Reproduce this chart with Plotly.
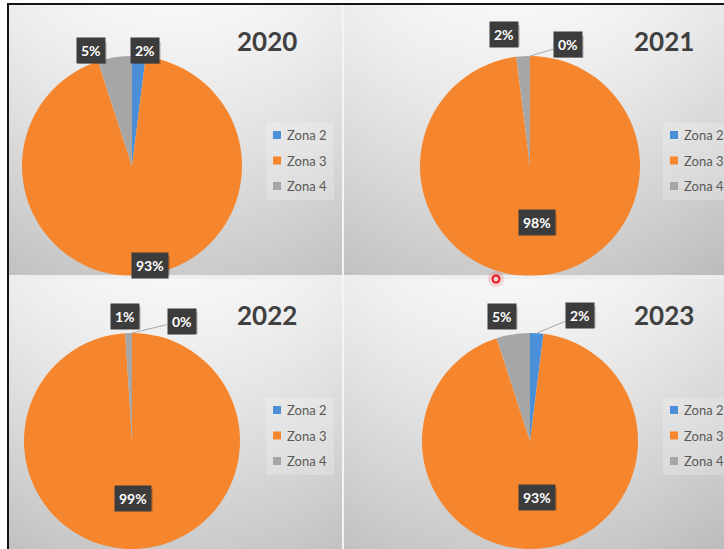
import base64
import math
import struct
import zlib

import numpy as np
import plotly.graph_objects as go

# ---- data -------------------------------------------------------------
years = ["2020", "2021", "2022", "2023"]
zones = ["Zona 2", "Zona 3", "Zona 4"]
share_2020 = [2, 93, 5]
share_2021 = [0, 98, 2]
share_2022 = [0, 99, 1]
share_2023 = [2, 93, 5]
zone_colors = ["#4A8FD8", "#F5862E", "#A6A6A6"]

W, H = 724, 549

# ---- panel geometry (pixels) -----------------------------------------
panels = [
    dict(year=years[0], values=share_2020, pie=(132, 166, 110), title=(267, 41),
         box=(266, 123), labels=[(145, 51), (150, 265), (91, 51)], leader=[False, False, False]),
    dict(year=years[1], values=share_2021, pie=(530, 166, 110), title=(664, 41),
         box=(663, 123), labels=[(568, 45), (537, 222), (504, 34)], leader=[True, False, False]),
    dict(year=years[2], values=share_2022, pie=(132, 441, 108), title=(267, 315),
         box=(266, 398), labels=[(182, 321), (133, 498), (125, 316)], leader=[True, False, False]),
    dict(year=years[3], values=share_2023, pie=(530, 441, 108), title=(664, 315),
         box=(663, 398), labels=[(580, 315), (537, 497), (502, 316)], leader=[True, False, False]),
]


def px(x):
    return x / W


def py(y):
    return 1 - y / H


# ---- soft grey panel background --------------------------------------
def png_uri(gray):
    h, w = gray.shape
    raw = b"".join(b"\x00" + gray[i].tobytes() for i in range(h))

    def chunk(tag, data):
        c = struct.pack(">I", len(data)) + tag + data
        return c + struct.pack(">I", zlib.crc32(tag + data) & 0xFFFFFFFF)

    png = (b"\x89PNG\r\n\x1a\n"
           + chunk(b"IHDR", struct.pack(">IIBBBBB", w, h, 8, 0, 0, 0, 0))
           + chunk(b"IDAT", zlib.compress(raw, 9))
           + chunk(b"IEND", b""))
    return "data:image/png;base64," + base64.b64encode(png).decode()


bg = np.full((H, W), 255.0)
yy, xx = np.mgrid[0:H, 0:W].astype(float)
for (x0, x1, y0, y1) in [(9, 342, 5, 275), (344, W, 5, 275), (9, 342, 277, H), (344, W, 277, H)]:
    pw, ph = 334.0, float(y1 - y0)
    cx = x0 + pw / 2
    t = np.clip((yy - y0) / ph, 0, 1)
    s = np.clip((xx - cx) / (pw / 2), -1.2, 1.2)
    val = 247 - 44 * t ** 1.2 - 10 * s ** 2
    m = (xx >= x0) & (xx < x1) & (yy >= y0) & (yy < y1)
    bg[m] = val[m]
# separators between the panels
bg[5:, 342:344] = 244
bg[275:277, 9:] = 238
# dark frame on top and left
bg[3:5, 7:] = 20
bg[3:, 7:9] = 20
bg_uri = png_uri(np.clip(bg, 0, 255).astype(np.uint8))

fig = go.Figure()

annotations = []
shapes = []

LABEL_FONT = dict(family="Lato, Open Sans, sans-serif", size=14, color="white")

for p in panels:
    cx, cy, r = p["pie"]
    fig.add_trace(go.Pie(
        labels=zones,
        values=p["values"],
        marker=dict(colors=zone_colors, line=dict(width=0)),
        sort=False,
        direction="clockwise",
        rotation=0,
        textinfo="none",
        hoverinfo="label+percent",
        showlegend=False,
        domain=dict(x=[px(cx - r), px(cx + r)], y=[py(cy + r), py(cy - r)]),
        name=p["year"],
    ))

    # year title
    tx, ty = p["title"]
    annotations.append(dict(
        x=px(tx), y=py(ty), xref="paper", yref="paper", showarrow=False,
        text="<b>%s</b>" % p["year"], xanchor="center", yanchor="middle",
        font=dict(family="Lato, Open Sans, sans-serif", size=26, color="#404040"),
    ))

    # percent labels in dark boxes
    total = float(sum(p["values"]))
    cum = 0.0
    for i, v in enumerate(p["values"]):
        frac_mid = (cum + v / 2) / total
        cum += v
        pct = "%d%%" % round(v / total * 100)
        lx, ly = p["labels"][i]
        # soft drop shadow behind the label box
        bw = 8 + 8.1 * (len(pct) - 1) + 11.6
        shapes.append(dict(type="rect", xref="paper", yref="paper", layer="above",
                           x0=px(lx - bw / 2 + 2), x1=px(lx + bw / 2 + 2),
                           y0=py(ly + 13), y1=py(ly - 9),
                           fillcolor="rgba(0,0,0,0.18)", line=dict(width=0)))
        lab = dict(
            xref="paper", yref="paper",
            text="<b>%s</b>" % pct,
            font=LABEL_FONT,
            bgcolor="#3C3C3C", borderpad=4,
        )
        if p["leader"][i]:
            ang = 2 * math.pi * frac_mid
            ex = cx + r * math.sin(ang)
            ey = cy - r * math.cos(ang)
            lab.update(x=px(ex), y=py(ey), showarrow=True, arrowhead=0, arrowwidth=1,
                       arrowcolor="#A6A6A6", standoff=0, ax=lx - ex, ay=ly - ey)
        else:
            lab.update(x=px(lx), y=py(ly), showarrow=False, xanchor="center", yanchor="middle")
        annotations.append(lab)

    # legend block
    bx, by = p["box"]
    shapes.append(dict(type="rect", xref="paper", yref="paper", layer="below",
                       x0=px(bx), x1=px(bx + 68), y0=py(by + 77), y1=py(by),
                       fillcolor="rgba(255,255,255,0.22)", line=dict(width=0)))
    for i, z in enumerate(zones):
        ry = by + 12 + 25.5 * i
        shapes.append(dict(type="rect", xref="paper", yref="paper", layer="below",
                           x0=px(bx + 7), x1=px(bx + 15), y0=py(ry + 4), y1=py(ry - 4),
                           fillcolor=zone_colors[i], line=dict(width=0)))
        annotations.append(dict(
            x=px(bx + 19), y=py(ry), xref="paper", yref="paper", showarrow=False,
            text=z, xanchor="left", yanchor="middle",
            font=dict(family="Lato, Open Sans, sans-serif", size=13, color="#595959"),
        ))

# keep the upper pies inside their panels
shapes.append(dict(type="rect", xref="paper", yref="paper", layer="above",
                   x0=px(9), x1=1, y0=py(279), y1=py(275.5),
                   fillcolor="#EEEEEE", line=dict(width=0)))
shapes.append(dict(type="rect", xref="paper", yref="paper", layer="above",
                   x0=px(342), x1=px(344), y0=py(279), y1=py(275.5),
                   fillcolor="#F4F4F4", line=dict(width=0)))

# pointer highlight
shapes.append(dict(type="circle", xref="paper", yref="paper", layer="above",
                   x0=px(488), x1=px(504), y0=py(287), y1=py(271),
                   fillcolor="rgba(255,60,60,0.18)", line=dict(width=0)))
shapes.append(dict(type="circle", xref="paper", yref="paper", layer="above",
                   x0=px(492.5), x1=px(499.5), y0=py(282.5), y1=py(275.5),
                   fillcolor="rgba(0,0,0,0)", line=dict(color="#E8101A", width=2)))

fig.update_layout(
    width=W, height=H,
    margin=dict(l=0, r=0, t=0, b=0, autoexpand=False),
    paper_bgcolor="white",
    plot_bgcolor="rgba(0,0,0,0)",
    showlegend=False,
    images=[dict(source=bg_uri, xref="paper", yref="paper", x=0, y=1, sizex=1, sizey=1,
                 xanchor="left", yanchor="top", sizing="stretch", layer="below")],
    shapes=shapes,
    annotations=annotations,
)

fig.write_html("out.html")
